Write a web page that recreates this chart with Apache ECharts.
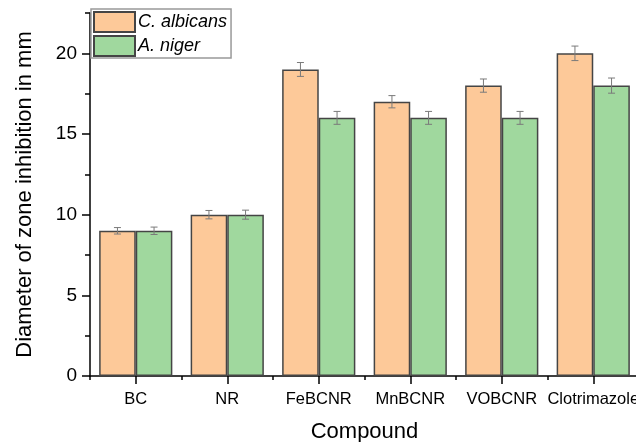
<!DOCTYPE html>
<html><head><meta charset="utf-8">
<script src="https://cdn.jsdelivr.net/npm/echarts@6/dist/echarts.min.js"></script>
<style>html,body{margin:0;padding:0;background:#fff}#c{width:636px;height:442px}</style>
</head><body><div id="c"></div>
<script>
const categories = ['BC', 'NR', 'FeBCNR', 'MnBCNR', 'VOBCNR', 'Clotrimazole'];
const albicans = [9, 10, 19, 17, 18, 20];
const albicansErr = [0.2, 0.26, 0.43, 0.38, 0.41, 0.45];
const niger = [9, 10, 16, 16, 16, 18];
const nigerErr = [0.23, 0.28, 0.4, 0.4, 0.4, 0.47];
const yTicks = [0, 5, 10, 15, 20];

const FONT = "'Liberation Sans', Arial, sans-serif";
const GRID_TOP = 13, GRID_BOTTOM = 66, GRID_LEFT = 90, GRID_RIGHT = -3, H = 442;
const Y_MAX = 22.5;
const unit = (H - GRID_TOP - GRID_BOTTOM) / Y_MAX;
const CAT_GAP = 0.2;

function errSeries(name, vals, errs, side) {
  return {
    type: 'custom', name: name + ' err', z: 10, silent: true,
    data: vals.map((v, i) => [i, v, errs[i]]),
    renderItem: function (params, api) {
      const i = api.value(0), v = api.value(1), e = api.value(2);
      const c = api.coord([i, v]);
      const w = api.size([1, 0])[0];
      const bw = w * (1 - CAT_GAP) / 2;
      const x = c[0] + side * bw / 2;
      const top = api.coord([i, v + e])[1];
      const bot = api.coord([i, v - e])[1];
      const cap = 3.5;
      const st = { stroke: '#7a7a7a', lineWidth: 1 };
      return { type: 'group', children: [
        { type: 'line', shape: { x1: x, y1: top, x2: x, y2: bot }, style: st },
        { type: 'line', shape: { x1: x - cap, y1: top, x2: x + cap, y2: top }, style: st },
        { type: 'line', shape: { x1: x - cap, y1: bot, x2: x + cap, y2: bot }, style: st }
      ]};
    }
  };
}

const chart = echarts.init(document.getElementById('c'), null, { renderer: 'canvas' });
chart.setOption({
  animation: false,
  backgroundColor: '#fff',
  textStyle: { fontFamily: FONT },
  grid: [
    { left: GRID_LEFT, right: GRID_RIGHT, top: GRID_TOP, bottom: GRID_BOTTOM, containLabel: false, outerBoundsMode: 'none' },
    { left: GRID_LEFT, right: GRID_RIGHT, top: GRID_TOP + (Y_MAX - yTicks[yTicks.length - 1]) * unit, bottom: GRID_BOTTOM, containLabel: false, outerBoundsMode: 'none' }
  ],
  legend: {
    data: ['C. albicans', 'A. niger'],
    orient: 'vertical', left: 91, top: 9,
    itemWidth: 41, itemHeight: 20, itemGap: 2,
    padding: [2, 4, 1, 2],
    borderColor: '#999', borderWidth: 1.5, backgroundColor: '#fff',
    icon: 'rect',
    textStyle: { fontFamily: FONT, fontStyle: 'italic', fontSize: 18, color: '#000', padding: [0, 0, 0, -2] }
  },
  xAxis: [
    {
      type: 'category', data: categories, gridIndex: 0, position: 'bottom',
      name: 'Compound', nameLocation: 'middle', nameGap: 45,
      nameTextStyle: { fontFamily: FONT, fontSize: 22, color: '#000' },
      axisLine: { show: true, lineStyle: { color: '#000', width: 1.5 } },
      axisTick: { show: true, alignWithLabel: true, length: 8, lineStyle: { color: '#000', width: 1.5 } },
      axisLabel: { fontFamily: FONT, fontSize: 16.5, color: '#000', margin: 15, interval: 0 },
      splitLine: { show: false }
    },
    {
      type: 'category', data: categories, gridIndex: 0, position: 'bottom',
      axisLine: { show: false },
      axisTick: { show: true, length: 4, lineStyle: { color: '#000', width: 1.5 } },
      axisLabel: { show: false }, splitLine: { show: false }
    },
    { type: 'category', data: categories, gridIndex: 1, show: false }
  ],
  yAxis: [
    {
      type: 'value', gridIndex: 0, min: 0, max: Y_MAX, interval: 2.5,
      name: 'Diameter of zone inhibition in mm', nameLocation: 'middle', nameGap: 54,
      nameTextStyle: { fontFamily: FONT, fontSize: 22, color: '#000' },
      axisLine: { show: true, lineStyle: { color: '#000', width: 1.5 } },
      axisTick: { show: true, length: 5, lineStyle: { color: '#000', width: 1.5 } },
      axisLabel: { fontFamily: FONT, fontSize: 19, color: '#000', margin: 13,
        formatter: v => (yTicks.indexOf(v) >= 0 ? String(v) : '') },
      splitLine: { show: false }
    },
    {
      type: 'value', gridIndex: 1, min: yTicks[0], max: yTicks[yTicks.length - 1], interval: 5,
      axisLine: { show: false },
      axisTick: { show: true, length: 8, lineStyle: { color: '#000', width: 1.5 } },
      axisLabel: { show: false }, splitLine: { show: false }
    }
  ],
  series: [
    { type: 'bar', name: 'C. albicans', data: albicans, xAxisIndex: 0, yAxisIndex: 0,
      barGap: '0%', barCategoryGap: (CAT_GAP * 100) + '%',
      itemStyle: { color: '#FDC999', borderColor: '#454545', borderWidth: 1.5 } },
    { type: 'bar', name: 'A. niger', data: niger, xAxisIndex: 0, yAxisIndex: 0,
      barGap: '0%', barCategoryGap: (CAT_GAP * 100) + '%',
      itemStyle: { color: '#A0D89E', borderColor: '#454545', borderWidth: 1.5 } },
    Object.assign(errSeries('C. albicans', albicans, albicansErr, -1), { xAxisIndex: 0, yAxisIndex: 0 }),
    Object.assign(errSeries('A. niger', niger, nigerErr, 1), { xAxisIndex: 0, yAxisIndex: 0 })
  ]
});
</script></body></html>
